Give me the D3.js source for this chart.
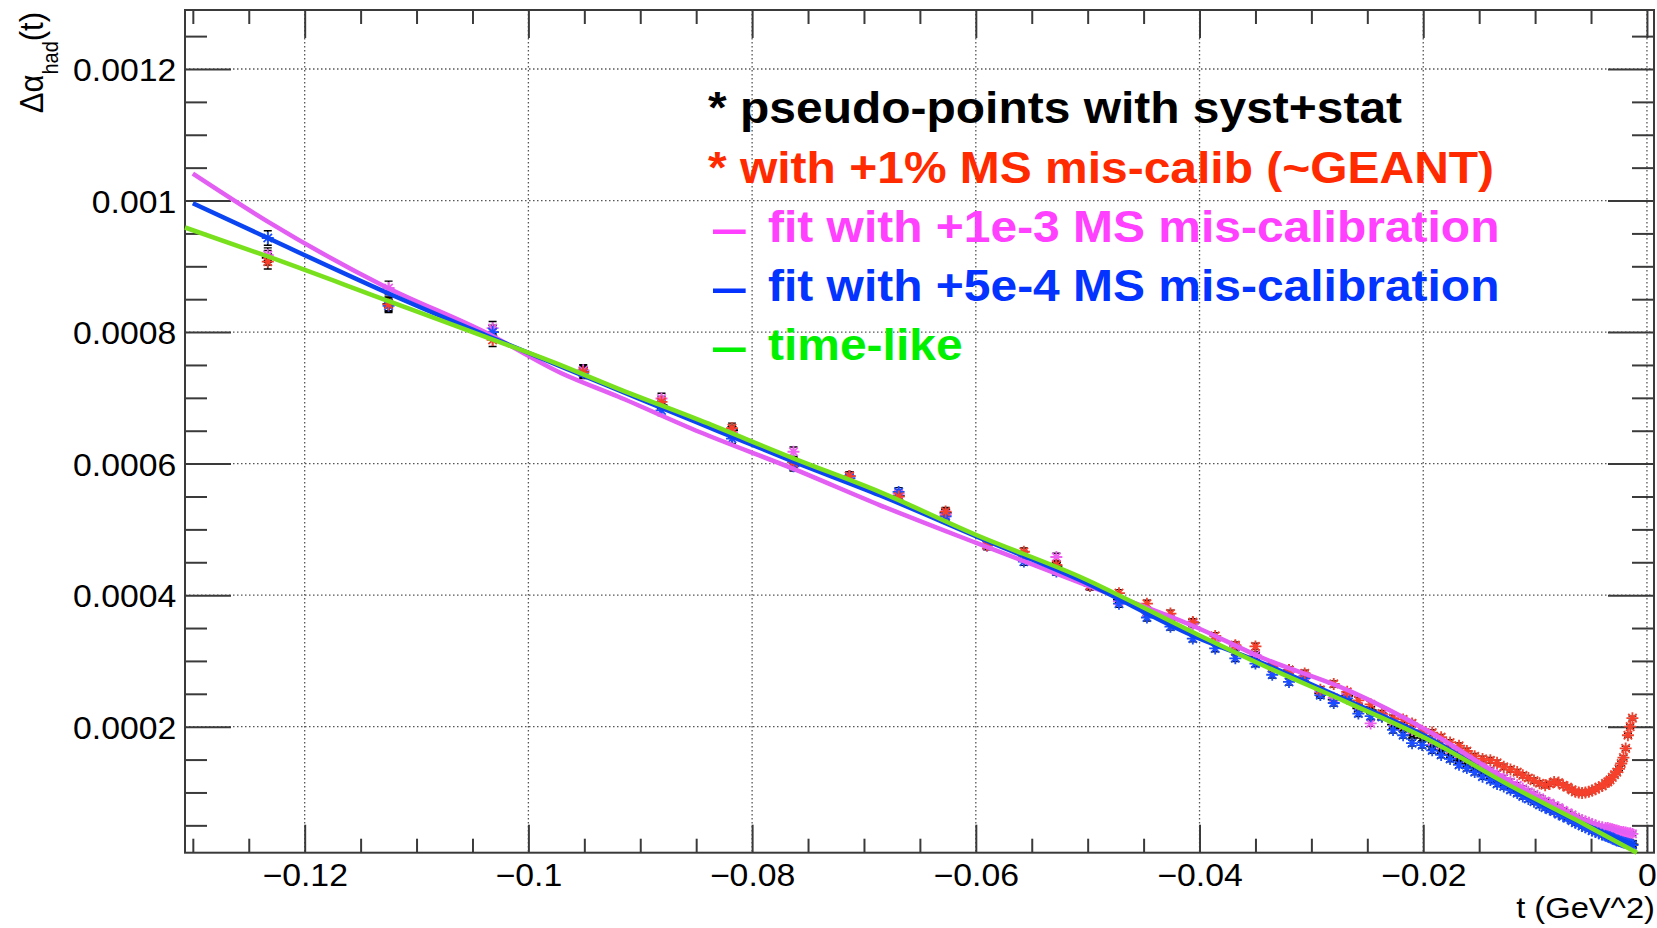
<!DOCTYPE html>
<html>
<head>
<meta charset="utf-8">
<script src="https://cdn.jsdelivr.net/npm/d3@7"></script>
<style>
  body { margin: 0; background: white; }
  text { font-family: "Liberation Sans", Arial, Helvetica, sans-serif; }
</style>
</head>
<body>
<div id="container"></div>
<script>
/* CONSTANTS AND GLOBALS */
const width = 1657,
  height = 928,
  frame = { left: 185, right: 1654, top: 10, bottom: 852.7 },
  stretch = 1.09; // the reference glyphs are a bit wider than normal

/* DATA */
const xTickVals = [-0.12, -0.1, -0.08, -0.06, -0.04, -0.02, 0]
const xTickLabels = ["\u22120.12", "\u22120.1", "\u22120.08", "\u22120.06", "\u22120.04", "\u22120.02", "0"]
const yTickVals = [0.0002, 0.0004, 0.0006, 0.0008, 0.001, 0.0012]
const yTickLabels = ["0.0002", "0.0004", "0.0006", "0.0008", "0.001", "0.0012"]

// t of the pseudo-points (GeV^2)
const tPoints = [
  -0.1233, -0.1125, -0.1032, -0.0951, -0.0881, -0.0818, -0.0763, -0.0713, -0.0669, -0.0627,
  -0.0590, -0.0557, -0.0528, -0.0498, -0.0472, -0.0447, -0.0426, -0.0406, -0.0386, -0.0368,
  -0.0350, -0.0335, -0.0320, -0.0306, -0.0292, -0.0280, -0.0268, -0.0258, -0.0247, -0.0237,
  -0.0227, -0.0218, -0.0210, -0.0201,
  -0.0192, -0.0184, -0.0176, -0.0168, -0.0161, -0.0154, -0.0147, -0.0140, -0.0134, -0.0128,
  -0.0122, -0.0116, -0.0111, -0.0106, -0.0101, -0.0096, -0.0091, -0.0087, -0.0083, -0.0079,
  -0.0075, -0.0071, -0.0067, -0.0064, -0.0061, -0.0058, -0.0055, -0.0052, -0.0049, -0.0046,
  -0.0043, -0.0040, -0.0037, -0.0035, -0.0033, -0.0031, -0.0029, -0.0027, -0.0025, -0.0023,
  -0.0021, -0.0019, -0.0017, -0.0015, -0.0013
]

// pseudo-points with syst+stat (black)
const blackPts = [
  0.000913, 0.000843, 0.000800, 0.000741, 0.000689, 0.000651, 0.000602, 0.000581, 0.000551, 0.000525,
  0.000477, 0.000460, 0.000444, 0.000414, 0.000393, 0.000374, 0.000362, 0.000358, 0.000332, 0.000322,
  0.000307, 0.000289, 0.000286, 0.000277, 0.000251, 0.000241, 0.000247, 0.000228, 0.000225, 0.000216,
  0.000203, 0.000198, 0.000187, 0.000183,
  0.000170, 0.000164, 0.000157, 0.000149, 0.000144, 0.000138, 0.000131, 0.000126, 0.000120, 0.000115,
  0.000110, 0.000105, 0.000100, 0.000096, 0.000091, 0.000087, 0.000083, 0.000079, 0.000076, 0.000072,
  0.000069, 0.000065, 0.000062, 0.000059, 0.000056, 0.000054, 0.000051, 0.000049, 0.000046, 0.000044,
  0.000041, 0.000039, 0.000037, 0.000035, 0.000034, 0.000032, 0.000031, 0.000029, 0.000028, 0.000026,
  0.000025, 0.000024, 0.000023, 0.000022, 0.000021
]

// with +1% MS mis-calib (red)
const redPts = [
  0.000907, 0.000842, 0.000788, 0.000739, 0.000694, 0.000654, 0.000602, 0.000581, 0.000550, 0.000527,
  0.000476, 0.000466, 0.000446, 0.000414, 0.000403, 0.000387, 0.000372, 0.000359, 0.000338, 0.000324,
  0.000322, 0.000292, 0.000286, 0.000281, 0.000256, 0.000265, 0.000253, 0.000240, 0.000234, 0.000220,
  0.000213, 0.000211, 0.000205, 0.000194,
  0.000191, 0.000184, 0.000176, 0.000171, 0.000163, 0.000155, 0.000151, 0.000149, 0.000145, 0.000139,
  0.000135, 0.000131, 0.000126, 0.000122, 0.000118, 0.000114, 0.000111, 0.000113, 0.000116, 0.000115,
  0.000111, 0.000108, 0.000104, 0.000101, 0.000100, 0.000099, 0.000100, 0.000101, 0.000103, 0.000105,
  0.000108, 0.000110, 0.000114, 0.000116, 0.000119, 0.000123, 0.000127, 0.000131, 0.000136, 0.000144,
  0.000153, 0.000167, 0.000187, 0.000200, 0.000213
]

// points with +1e-3 MS mis-calibration (magenta)
const pinkPts = [
  0.000917, 0.000867, 0.000806, 0.000742, 0.000699, 0.000648, 0.000618, 0.000581, 0.000554, 0.000523,
  0.000475, 0.000461, 0.000458, 0.000414, 0.000391, 0.000374, 0.000365, 0.000356, 0.000330, 0.000322,
  0.000309, 0.000289, 0.000283, 0.000277, 0.000253, 0.000244, 0.000250, 0.000231, 0.000205, 0.000218,
  0.000207, 0.000201, 0.000195, 0.000190,
  0.000178, 0.000172, 0.000165, 0.000158, 0.000152, 0.000146, 0.000140, 0.000133, 0.000128, 0.000122,
  0.000116, 0.000111, 0.000106, 0.000101, 0.000097, 0.000092, 0.000087, 0.000084, 0.000080, 0.000077,
  0.000073, 0.000069, 0.000066, 0.000062, 0.000060, 0.000058, 0.000056, 0.000054, 0.000052, 0.000050,
  0.000048, 0.000047, 0.000046, 0.000046, 0.000045, 0.000044, 0.000043, 0.000042, 0.000041, 0.000040,
  0.000040, 0.000039, 0.000038, 0.000038, 0.000037
]

// points with +5e-4 MS mis-calibration (blue)
const bluePts = [
  0.000943, 0.000840, 0.000800, 0.000738, 0.000681, 0.000638, 0.000596, 0.000578, 0.000557, 0.000520,
  0.000476, 0.000451, 0.000436, 0.000414, 0.000387, 0.000366, 0.000352, 0.000334, 0.000319, 0.000304,
  0.000296, 0.000279, 0.000268, 0.000274, 0.000248, 0.000236, 0.000243, 0.000220, 0.000216, 0.000215,
  0.000195, 0.000187, 0.000175, 0.000172,
  0.000164, 0.000157, 0.000151, 0.000142, 0.000137, 0.000131, 0.000124, 0.000119, 0.000113, 0.000109,
  0.000104, 0.000099, 0.000094, 0.000090, 0.000086, 0.000081, 0.000077, 0.000074, 0.000071, 0.000067,
  0.000064, 0.000061, 0.000057, 0.000054, 0.000052, 0.000049, 0.000047, 0.000045, 0.000042, 0.000040,
  0.000038, 0.000036, 0.000034, 0.000033, 0.000032, 0.000030, 0.000029, 0.000027, 0.000026, 0.000025,
  0.000024, 0.000023, 0.000022, 0.000021, 0.000020
]

// half-size of the error bars
const errPts = [
  0.0000110, 0.0000105, 0.0000100, 0.0000085, 0.0000080, 0.0000075, 0.0000072, 0.0000068, 0.0000065, 0.0000062,
  0.0000060, 0.0000058, 0.0000056, 0.0000055, 0.0000054, 0.0000053, 0.0000052, 0.0000051, 0.0000050, 0.0000050,
  0.0000049, 0.0000049, 0.0000048, 0.0000048, 0.0000047, 0.0000047, 0.0000046, 0.0000046, 0.0000045, 0.0000045,
  0.0000045, 0.0000044, 0.0000044, 0.0000044,
  0.0000043, 0.0000043, 0.0000043, 0.0000042, 0.0000042, 0.0000042, 0.0000041, 0.0000041, 0.0000041, 0.0000040,
  0.0000040, 0.0000040, 0.0000039, 0.0000039, 0.0000039, 0.0000038, 0.0000038, 0.0000038, 0.0000037, 0.0000037,
  0.0000037, 0.0000036, 0.0000036, 0.0000036, 0.0000035, 0.0000035, 0.0000035, 0.0000034, 0.0000034, 0.0000034,
  0.0000033, 0.0000033, 0.0000033, 0.0000032, 0.0000032, 0.0000032, 0.0000031, 0.0000031, 0.0000031, 0.0000030,
  0.0000030, 0.0000030, 0.0000030, 0.0000030, 0.0000030
]

// fit curves
const fitT = [-0.130, -0.1233, -0.1128, -0.1039, -0.0970, -0.0920, -0.0847, -0.0763, -0.0686, -0.0599,
  -0.0507, -0.0404, -0.0343, -0.0268, -0.0194, -0.0122, -0.0063, -0.0011]
const pinkFit = [0.001041, 0.000968, 0.000869, 0.000800, 0.000737, 0.000702, 0.000648, 0.000592, 0.000537, 0.000479,
  0.000419, 0.000352, 0.000304, 0.000256, 0.000192, 0.000116, 0.000062, 0.000036]
const blueFit = [0.000996, 0.000943, 0.000861, 0.000796, 0.000747, 0.000712, 0.000661, 0.000603, 0.000552, 0.000489,
  0.000423, 0.000337, 0.000296, 0.000240, 0.000182, 0.000108, 0.000057, 0.000020]
const greenT = [-0.1307, -0.1233, -0.1128, -0.1039, -0.0979, -0.0920, -0.0847, -0.0763, -0.0686, -0.0599,
  -0.0507, -0.0404, -0.0343, -0.0268, -0.0194, -0.0122, -0.0063, -0.0009]
const greenFit = [0.000959, 0.000915, 0.000849, 0.000793, 0.000755, 0.000714, 0.000666, 0.000608, 0.000557, 0.000491,
  0.000428, 0.000342, 0.000293, 0.000237, 0.000179, 0.000110, 0.000058, 0.0000084]

const legendLines = [
  { mark: "*", text: "pseudo-points with syst+stat", color: "#000000" },
  { mark: "*", text: "with +1% MS mis-calib (~GEANT)", color: "#ff2a00" },
  { mark: "\u2013", text: "fit with +1e-3 MS mis-calibration", color: "#ff40ff" },
  { mark: "\u2013", text: "fit with +5e-4 MS mis-calibration", color: "#0433ff" },
  { mark: "\u2013", text: "time-like", color: "#00f000" }
]

const svg = d3.select("#container")
  .append("svg")
  .attr("width", width)
  .attr("height", height)
  .style("background-color", "white")

/* SCALES */
const xScale = d3.scaleLinear()
  .domain([-0.1307, 0.00063])
  .range([frame.left, frame.right])

const yScale = d3.scaleLinear()
  .domain([0.0000084, 0.0012897])
  .range([frame.bottom, frame.top])

/* GRID */
const grid = svg.append("g")
  .attr("stroke", "#555")
  .attr("stroke-width", 1.3)
  .attr("stroke-dasharray", "1.5,2.5")

grid.selectAll(".vgrid")
  .data(xTickVals)
  .join("line")
  .attr("x1", d => xScale(d)).attr("x2", d => xScale(d))
  .attr("y1", frame.top).attr("y2", frame.bottom)

grid.selectAll(".hgrid")
  .data(yTickVals)
  .join("line")
  .attr("x1", frame.left).attr("x2", frame.right)
  .attr("y1", d => yScale(d)).attr("y2", d => yScale(d))

/* AXES */
const xMinor = d3.range(-0.13, 0.001, 0.005).filter(v => Math.abs(v / 0.02 - Math.round(v / 0.02)) > 0.01)
const yMinor = d3.range(0.00005, 0.00129, 0.00005).filter(v => Math.abs(v / 0.0002 - Math.round(v / 0.0002)) > 0.01)

function styleAxis(g) {
  g.select(".domain").remove()
  g.selectAll(".tick line").attr("stroke", "#3a3a3a").attr("stroke-width", 2)
}

// bottom
svg.append("g")
  .attr("transform", `translate(0, ${frame.bottom})`)
  .call(d3.axisBottom(xScale).tickValues(xTickVals)
    .tickFormat((d, i) => xTickLabels[i]).tickSizeInner(-28).tickSizeOuter(0).tickPadding(11))
  .call(styleAxis)
svg.append("g")
  .attr("transform", `translate(0, ${frame.bottom})`)
  .call(d3.axisBottom(xScale).tickValues(xMinor).tickFormat("").tickSizeInner(-14).tickSizeOuter(0))
  .call(styleAxis)

// top
svg.append("g")
  .attr("transform", `translate(0, ${frame.top})`)
  .call(d3.axisTop(xScale).tickValues(xTickVals).tickFormat("").tickSizeInner(-28).tickSizeOuter(0))
  .call(styleAxis)
svg.append("g")
  .attr("transform", `translate(0, ${frame.top})`)
  .call(d3.axisTop(xScale).tickValues(xMinor).tickFormat("").tickSizeInner(-14).tickSizeOuter(0))
  .call(styleAxis)

// left
svg.append("g")
  .attr("transform", `translate(${frame.left}, 0)`)
  .call(d3.axisLeft(yScale).tickValues(yTickVals)
    .tickFormat((d, i) => yTickLabels[i]).tickSizeInner(-46).tickSizeOuter(0).tickPadding(8))
  .call(styleAxis)
svg.append("g")
  .attr("transform", `translate(${frame.left}, 0)`)
  .call(d3.axisLeft(yScale).tickValues(yMinor).tickFormat("").tickSizeInner(-22).tickSizeOuter(0))
  .call(styleAxis)

// right
svg.append("g")
  .attr("transform", `translate(${frame.right}, 0)`)
  .call(d3.axisRight(yScale).tickValues(yTickVals).tickFormat("").tickSizeInner(-46).tickSizeOuter(0))
  .call(styleAxis)
svg.append("g")
  .attr("transform", `translate(${frame.right}, 0)`)
  .call(d3.axisRight(yScale).tickValues(yMinor).tickFormat("").tickSizeInner(-22).tickSizeOuter(0))
  .call(styleAxis)

svg.selectAll(".tick text")
  .attr("font-family", "Liberation Sans, Arial, sans-serif")
  .attr("font-size", 31)
  .attr("fill", "#000")
  .attr("transform", `scale(${stretch},1)`)

// left labels sit a touch lower than d3's default
svg.selectAll(".tick text").filter(function () { return this.getAttribute("dy") === "0.32em" })
  .attr("dy", "0.37em")

// frame
svg.append("rect")
  .attr("x", frame.left).attr("y", frame.top)
  .attr("width", frame.right - frame.left)
  .attr("height", frame.bottom - frame.top)
  .attr("fill", "none")
  .attr("stroke", "#3a3a3a")
  .attr("stroke-width", 2)

/* AXIS TITLES */
svg.append("text")
  .attr("transform", `translate(1655, 918) scale(${stretch},1)`)
  .attr("text-anchor", "end")
  .attr("font-size", 30)
  .text("t (GeV^2)")

const yTitle = svg.append("text")
  .attr("transform", `translate(43, 12) scale(${stretch},1) rotate(-90)`)
  .attr("text-anchor", "end")
  .attr("font-size", 31)
yTitle.append("tspan").text("\u0394\u03b1")
yTitle.append("tspan").attr("font-size", 20).attr("dy", 14).text("had")
yTitle.append("tspan").attr("dy", -14).text("(t)")

/* POINTS */
const pointSeries = [
  { values: blackPts, color: "#000000" },
  { values: pinkPts, color: "#f060f0" },
  { values: bluePts, color: "#1a4dff" },
  { values: redPts, color: "#f5402c" }
]

const plot = svg.append("g")

// black error bars for every series
pointSeries.forEach(s => {
  const g = plot.append("g").attr("stroke", "#000").attr("stroke-width", 1.4)
  const rows = tPoints.map((t, i) => ({ t, v: s.values[i], e: errPts[i] }))
  g.selectAll(".bar")
    .data(rows)
    .join("path")
    .attr("d", d => {
      const x = xScale(d.t), y1 = yScale(d.v - d.e), y2 = yScale(d.v + d.e)
      return `M${x},${y1}V${y2}M${x - 4},${y1}H${x + 4}M${x - 4},${y2}H${x + 4}`
    })
})

// asterisk markers
const star = "M-6,0H6M0,-6V6M-4.2,-4.2L4.2,4.2M-4.2,4.2L4.2,-4.2"
pointSeries.forEach(s => {
  plot.append("g")
    .selectAll(".dot")
    .data(tPoints.map((t, i) => ({ t, v: s.values[i] })))
    .join("path")
    .attr("class", "dot")
    .attr("d", star)
    .attr("transform", d => `translate(${xScale(d.t)},${yScale(d.v)})`)
    .attr("fill", "none")
    .attr("stroke", s.color)
    .attr("stroke-width", 1.8)
})

/* FIT LINES */
const line = d3.line()
  .x(d => xScale(d[0]))
  .y(d => yScale(d[1]))
  .curve(d3.curveMonotoneX)

const fits = [
  { t: fitT, v: pinkFit, color: "#e35ef2" },
  { t: fitT, v: blueFit, color: "#0b45f2" },
  { t: greenT, v: greenFit, color: "#78e01c" }
]

svg.selectAll(".fit")
  .data(fits)
  .join("path")
  .attr("class", "fit")
  .attr("d", f => line(f.t.map((t, i) => [t, f.v[i]])))
  .attr("fill", "none")
  .attr("stroke", f => f.color)
  .attr("stroke-width", 4.5)

/* LEGEND */
const legendBase = [123, 182.5, 241.5, 300.5, 359.5]

// the marker glyph ("*" or a dash widened to the reference's length)
svg.selectAll(".legend-mark")
  .data(legendLines)
  .join("text")
  .attr("class", "legend-mark")
  .attr("transform", (d, i) => d.mark === "*"
    ? `translate(708, ${legendBase[i]}) scale(${stretch},1)`
    : `translate(711, ${legendBase[i] + 2}) scale(1.5,1)`)
  .attr("font-size", 44)
  .attr("font-weight", "bold")
  .attr("fill", d => d.color)
  .text(d => d.mark)

svg.selectAll(".legend")
  .data(legendLines)
  .join("text")
  .attr("class", "legend")
  .attr("transform", (d, i) => `translate(${d.mark === "*" ? 740 : 768}, ${legendBase[i]}) scale(${stretch},1)`)
  .attr("font-size", 44)
  .attr("font-weight", "bold")
  .attr("fill", d => d.color)
  .text(d => d.text)
</script>
</body>
</html>
